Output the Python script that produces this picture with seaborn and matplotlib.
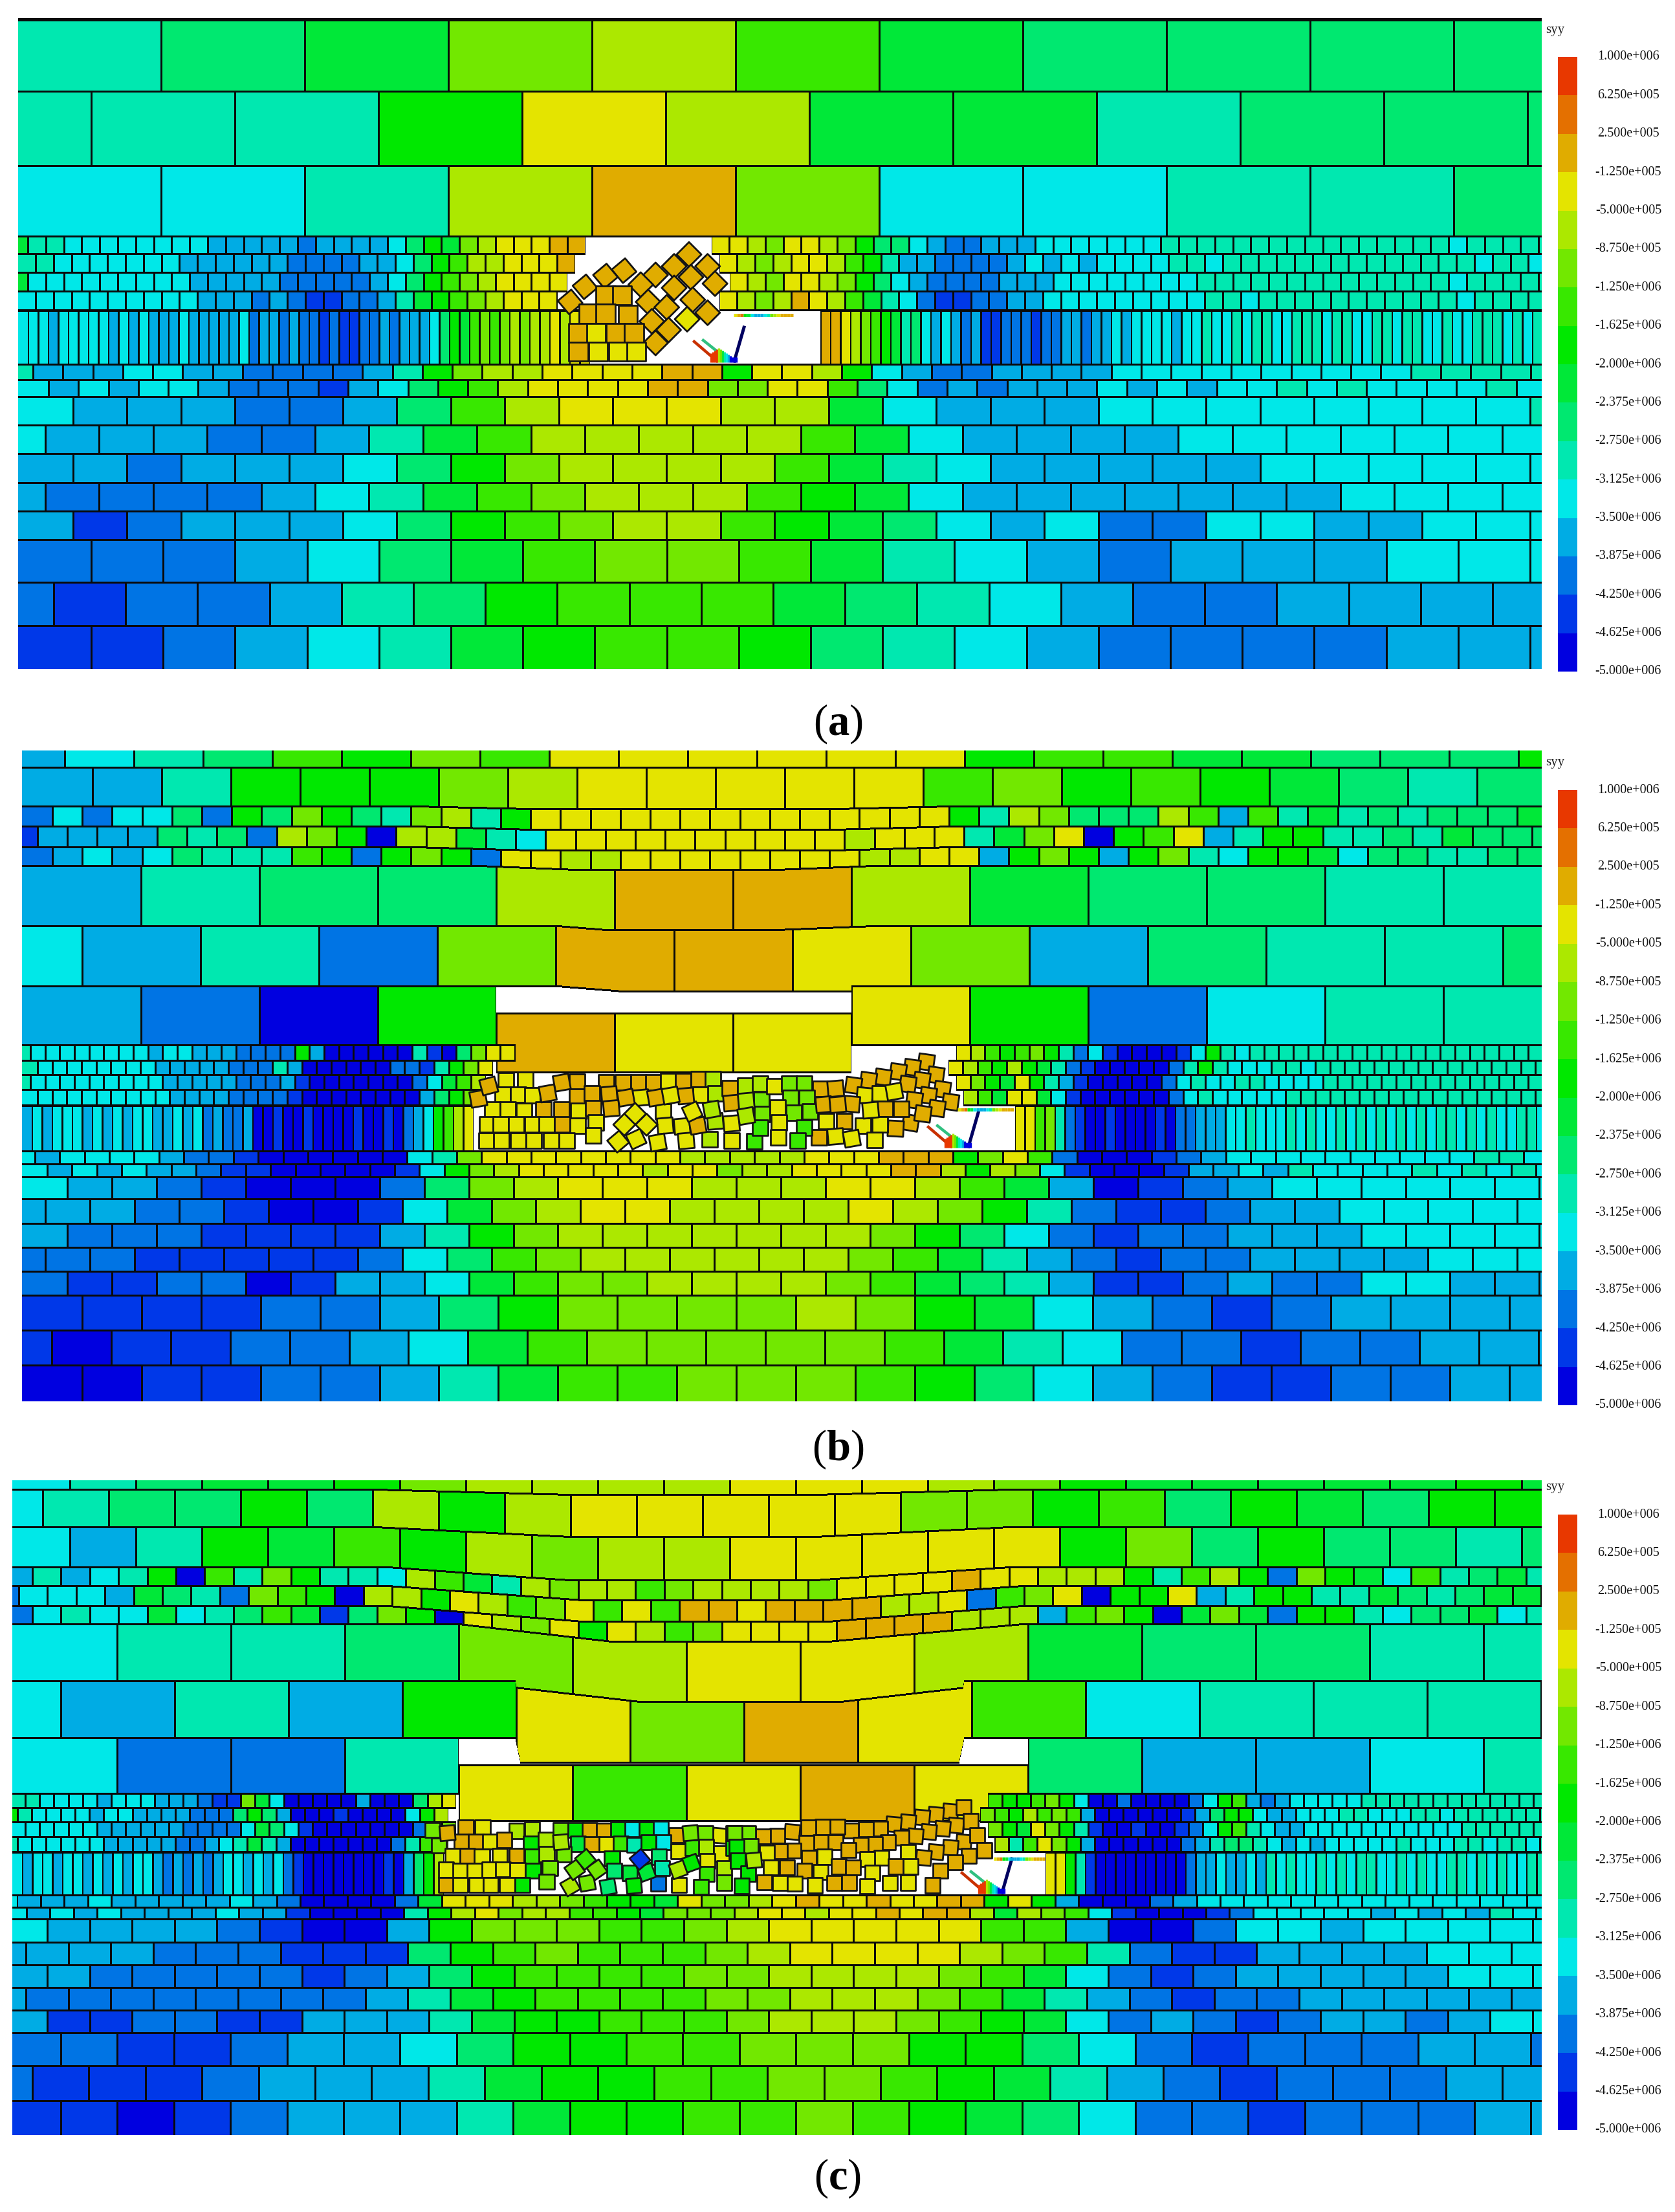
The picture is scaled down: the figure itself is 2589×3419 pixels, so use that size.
import numpy as np
import pandas as pd
import matplotlib
matplotlib.use('Agg')
import matplotlib.pyplot as plt
from matplotlib.colors import ListedColormap
import seaborn as sns

W, H = 2589, 3419

# stress bands, bottom of the colour bar to the top
CODES = 'abcdefghijklmnop'
BAND_COLORS = ['#0000e0', '#0038e8', '#0074e4', '#00ace4', '#00e8e8', '#00e8b0', '#00e870', '#00e838',
               '#00e800', '#38e800', '#72e800', '#ace800', '#e4e400', '#e0ac00', '#e47000', '#e83800']
BAND_LABELS = ['1.000e+006', '6.250e+005', '2.500e+005', '-1.250e+005', '-5.000e+005', '-8.750e+005',
               '-1.250e+006', '-1.625e+006', '-2.000e+006', '-2.375e+006', '-2.750e+006', '-3.125e+006',
               '-3.500e+006', '-3.875e+006', '-4.250e+006', '-4.625e+006', '-5.000e+006']

# stress band of every block, row by row ('.' is an open void)
a_levels = [
    'fghkljhgggg',
    'fffimlhhfggg',
    'eeflnkeeffg',
    'hffeeeeeeeedddddcddddegihklmmmnn ....... mmlkmml kiggedccddd eeeeeee ffffffffffffffff effff',
    'ffeeeeeeeddddddccccddegijllmmmn ........ mlklmml jifddccccdededeeeeffe ffffffffffffff effef',
    'heeeeeeeeedddddcccccdegijklmmmm ......... mlkmml kigedccccddd eeeeeeee ffffffffffffff effff',
    'eeeeeeeeeedddcdcbbccdfhijklmmm ......... mlklnml jhfecbbccdd eeeeeeeee ff e fffffffffff effff',
    'eeedeeeeede dedddeddddde cddcdcc bcbb ccdcdd de gih jkjk lkl lmlm m ....................... '
    'nnmlkjih fg ede dcd bb cccbcc ddcdd ed eeeedee feefeffeefffeffeeffeffeefeefffefeffeffe',
    'fdddeeddccccdfikllmmmmnnimml iedccdddd eeeeeeeeee fffff',
    'ededeedccc bdegijlmmmmnnkkmmj gecdcdddededeefefeeeefefe',
    'edddccdgjlmmmllheddd eeeeeeeef',
    'edddccdfhjlllll jheddddeeeeeee',
    'ddcdddegikllllj hfedddddeeeeee',
    'dccccdefhjkllljihedddddddeeee',
    'dbcdddegijkllji hgedecceeddee',
    'cccdeghjkkjhfedcdddeee',
    'cbccdfgijjjhgfedccdddd',
    'bbcdefhijjigfedccccddd',
]
b_levels = [
    'defgjikjmmmmmmijjhhgggi',
    'ddfiiikl mmmmm jkijihgfgg',
    'ceceegcigkigfklfi mmmmmmmmmm m mmm ifl kggglj djfhfgfgggh',
    'bddddgfgclkiallhfe mmmmmmmmmm lmmm fhkmaijm dfiiffgfhggg',
    'cdedegfffjicikicmmllmmmmmmmm llmmdikidikfeiihegg ffgg',
    'dfgglnnlhggff',
    'edfcknnmkdgffg',
    'dcainmmmiceff',
    'feeeeeeeedeedddccccidaaaaaafbagkmm .............................. mljijkifcebaaaabeifeffffffff fffffffffffff',
    'feeeeeeeedddddcccfdaaaaaaccbfikm ............................... mljilihfcbaaaaacfifeeeffef fffffffffffffff',
    'feeeeeeeeedddddcccdbaaaaaaacehjl ................................ mkihmifdbaaaaacefeeffeeeeffffffffffffff',
    'eeeeeeeeeeddddccccbaaaaaaaadgik ................................. ljhmmhebaaaaaacefeeeeeffffffffffffffffff',
    'dedeeedededee ddede cdccd aabaabaaaabaaba cd e i j lm ...................................................... '
    'mm jk f cb aabaaaaba ccd dde efeeefefeefefefefefeffefefeeffefe',
    'edeeeedccbaaaaaaefk mmmmmmmm lllll mm mnnnikmjcaaabcd eeeeeeeeee ffe',
    'edededdcbbaaaaabeiklmmmmmlmmkllmm mmnnlilkebaaabddedfeeeefefefe',
    'eddcbaaacgklmmmlllmmljhdabcdeeeeeee',
    'dddccbaabehklmmllllmlkifcbbcddeeeee',
    'dcccbbbbdfiklllllllkigecbccdddeeeee',
    'cccbbbbbcegjkllllllkjhfdcbccddddee',
    'cbbccabddehjkkllllkjhgfdbbcdcceedd',
    'bbbbccdgikkkklkihedcbcdddd',
    'babbccdehjkkkkkjhfeccbccdd',
    'aabbccdfhjjkkkjigedcbbccdd',
]
c_levels = [
    'efghhikllllmmmlkihhhhhih',
    'efggiglilmmm mmkkijgihgi',
    'edfihjilkllmmmmmikgigg fg',
    'dfdefiajfkiffeljhflklljkl lllk mm m mnmmlllifjlickihejfghfegfh',
    'ceeedhgfckjiallimljkmjmjnnmn nnnllmcjkmaiimdfiiffhgfgh',
    'cefeehefgjhbgkiamlkmimljkmmmm nnnn llldjkiahkhciifegghe f h h',
    'effgklmmlhggff',
    'edfdimknmjefffg',
    'eccfmjmnmgddef',
    'ffeeeedeeedddcbbkheaaaaadaaaglm ..................................... jiijkieaacaaaaceijdcdeeeeeff fffffffffff',
    'ifeeeedeeddddcccgigdaaabaaaaeil ..................................... kjiljkjdaaaaaabdgiiedd eeeffeeeffefffffff',
    'eeeeeeddddddccccehgebaaaaaaacfk ..................................... kihmkifbaabaabceijfedde eeeeeeeeeefffffff',
    'feeeeeedddddccdefhfdaaaaaaacfjk ...................................... lfjmkidaaaaaacdfggfededeeeeefeeeffeffef fff',
    'edeedeedededee dcdcdcd eedede cb aaaaaaaaba d g i l ............................................................ '
    'mm i f baaaaaaaaa c ddedded fefeefefeffeefefeeffefefeeff',
    'eddd edddddedcaaaachmmmllkjiihmkklmnm mnmmnnimidaaacd eeeeeeeeeeeeee e',
    'edededdddeddbaaaafilmkllj jihkkklmmlm mnmnnlhlkjebaaabce eeeedededfeeeee',
    'eddddcbaadikkkjjklmm mmmjjdaaceedeeeee',
    'ddddcccbbbgijkjjjklm mmmlkjfcbbdddd eeee',
    'ddcccccbcdgijjjjkkllllkjhecbcdddddeee',
    'dccccccccdfhijjjjkklllkjhfdcbccdddddd',
    'dbbccbbdddfhiijjjklllkjihecdcbcddcdee',
    'ccbbcddegiijjkkkiigecbcccddc',
    'cbbbcdddfhiijjkkjihfdcbcccdd',
    'bbabcdddfhiijjkjihgeccbcccdd',
]

# row boundaries (figure pixels), first joint and block width of each row
a_rows_y = [28, 141, 256, 365, 392, 421, 450, 479, 563, 587, 613, 657, 701, 746, 790, 834, 900, 967, 1034]
a_first = [249, 141, 249, 43, 55, 43, 55, 43.5, 51, 75, 113, 70, 113, 70, 113, 141, 83, 141]
a_width = [222, 222, 222, 27.8, 27.8, 27.8, 27.8, 15.5, 46.3, 46.3, 83.4, 83.4, 83.4, 83.4, 83.4, 111.2, 111.2, 111.2]
b_rows_y = [1160, 1186, 1246, 1277, 1309, 1338, 1431, 1524, 1615, 1639, 1661, 1684, 1708, 1779, 1799, 1819, 1853,
            1891, 1928, 1965, 2002, 2056, 2110, 2166]
b_first = [100, 143, 81, 58, 81, 218, 127, 218, 47, 58, 47, 58, 49.5, 54, 73, 104, 70, 104, 70, 104, 127, 80, 127]
b_width = [107, 107, 46.2, 46.2, 46.2, 183, 183, 183, 22.7, 22.7, 22.7, 22.7, 15.5, 38.35, 38.35, 68.95, 68.95, 68.95,
           68.95, 68.95, 91.9, 91.9, 91.9]
c_rows_y = [2288, 2302, 2360, 2422, 2451, 2482, 2510, 2598, 2686, 2772, 2794, 2816, 2839, 2862, 2929, 2948, 2966, 3002,
            3037, 3072, 3107, 3142, 3193, 3247, 3300]
c_first = [108, 66, 108, 50, 29, 50, 181, 94, 181, 39, 27, 39, 27, 34.5, 26.5, 41, 73, 40, 73, 40, 73, 94, 50, 94]
c_width = [102, 102, 102, 44.4, 44.4, 44.4, 176, 176, 176, 22.2, 22.2, 22.2, 22.2, 15.5, 36.46, 36.46, 65.6, 65.6,
           65.6, 65.6, 65.6, 87.4, 87.4, 87.4]

# how far the strata over the goaf have sagged: pixels, from x, to x, ramp
b_sag = [(0, 0, 1, 1), (4, 640, 1470, 180), (5, 640, 1470, 180), (5, 640, 1470, 180), (6, 640, 1470, 180),
         (6, 740, 1350, 150), (8, 862, 1413, 100), (42, 767, 1316, 0)]
c_sag = [(8, 580, 1560, 300), (15, 580, 1560, 300), (20, 580, 1560, 300), (22, 600, 1580, 300), (24, 600, 1580, 300),
         (27, 600, 1580, 300), (32, 709, 1579, 280), (38, 796, 1490, 8), (42, 709, 1589, 0)]

cave_a_diamonds = [(810, 100, 'n', 45), (770, 155, 'n', 45), (720, 195, 'n', 45), (860, 155, 'n', 45), (680, 240, 'n', 45),
                   (815, 205, 'n', 45), (770, 255, 'n', 45), (880, 235, 'n', 45), (635, 175, 'n', 40), (585, 200, 'n', 40),
                   (530, 250, 'n', 40), (490, 320, 'n', 40), (700, 320, 'n', 45), (750, 345, 'n', 45), (820, 310, 'n', 45),
                   (710, 410, 'n', 45), (860, 370, 'n', 45), (755, 450, 'n', 45), (720, 510, 'n', 45), (805, 400, 'm', 45)]
cave_a_squares = [(585, 290, 'n', 0), (630, 290, 'n', 0), (540, 375, 'n', 0), (585, 375, 'n', 0), (645, 380, 'n', 0),
                  (512, 465, 'n', 0), (560, 465, 'm', 0), (612, 465, 'n', 0), (662, 465, 'n', 0), (512, 550, 'n', 0),
                  (565, 550, 'm', 0), (620, 550, 'm', 0), (668, 550, 'm', 0)]
cave_b_left = [(185, 90, 'm', 0), (275, 88, 'm', 0), (445, 100, 'n', 10), (517, 95, 'n', 0), (650, 100, 'n', 0), (730, 100, 'n', 0),
               (800, 100, 'n', 0), (870, 100, 'n', 0), (938, 92, 'm', 0), (1008, 92, 'n', 0), (1080, 85, 'n', 0), (1147, 85, 'l', 0),
               (105, 115, 'n', 15), (58, 175, 'n', 10), (172, 155, 'm', 0), (243, 155, 'm', 0), (310, 160, 'm', 0), (380, 150, 'n', 10),
               (517, 165, 'n', 0), (585, 150, 'n', 0), (665, 155, 'n', 5), (742, 170, 'n', 10), (812, 170, 'm', 5), (882, 170, 'n', 10),
               (950, 160, 'm', 10), (1020, 162, 'n', 5), (1088, 155, 'm', 0), (1157, 150, 'l', 0), (1225, 125, 'n', 0), (1295, 115, 'l', 0),
               (1365, 105, 'l', 0), (122, 225, 'm', 0), (195, 225, 'm', 0), (270, 230, 'm', 0), (360, 225, 'n', 0), (445, 225, 'n', 0),
               (522, 230, 'm', 0), (592, 220, 'n', 0), (675, 220, 'n', 5), (785, 245, 'm', 45), (915, 235, 'm', 0), (1050, 235, 'm', 25),
               (1140, 225, 'l', 10), (1232, 195, 'n', 5), (1300, 185, 'l', 5), (1370, 180, 'k', 0), (98, 295, 'm', 0), (162, 295, 'm', 0),
               (235, 295, 'm', 0), (308, 295, 'm', 0), (375, 295, 'm', 0), (447, 295, 'n', 0), (520, 300, 'm', 0), (603, 285, 'm', 0),
               (735, 295, 'm', 45), (838, 295, 'm', 45), (925, 300, 'm', 5), (1003, 303, 'm', 5), (1075, 300, 'n', 10), (1157, 280, 'l', 5),
               (1232, 290, 'm', 5), (1300, 255, 'l', 10), (1375, 245, 'k', 0), (95, 368, 'm', 0), (165, 368, 'm', 0), (243, 368, 'm', 0),
               (315, 368, 'm', 0), (397, 368, 'm', 0), (467, 368, 'm', 0), (590, 345, 'm', 0), (705, 372, 'm', 40), (790, 362, 'm', 25),
               (890, 378, 'm', 10), (1022, 370, 'm', 5), (1130, 362, 'l', 0), (1232, 368, 'm', 0), (1338, 372, 'j', 0), (1365, 310, 'j', 0)]
cave_b_right = [(755, 95, 'n', -8), (690, 120, 'n', -8), (625, 140, 'n', -8), (555, 165, 'n', -8), (487, 180, 'n', -8), (418, 203, 'n', -8),
                (335, 218, 'n', 5), (265, 218, 'n', 0), (800, 155, 'n', -8), (735, 180, 'n', -8), (670, 198, 'n', -8), (607, 232, 'm', 10),
                (540, 240, 'm', 0), (470, 250, 'm', -5), (830, 222, 'n', -8), (765, 250, 'n', -8), (700, 272, 'n', -8), (280, 292, 'n', 5),
                (345, 292, 'n', 5), (410, 290, 'n', -5), (497, 318, 'm', 5), (565, 312, 'n', 0), (640, 312, 'n', 0), (868, 280, 'n', -8),
                (805, 310, 'n', -8), (740, 335, 'n', -8), (290, 368, 'm', 0), (375, 368, 'n', 0), (462, 390, 'm', 0), (540, 385, 'm', 0),
                (680, 375, 'n', -10), (612, 402, 'n', -3), (258, 443, 'n', 0), (335, 440, 'm', 5), (410, 450, 'm', 10), (515, 455, 'm', 0),
                (50, 207, 'm', 0), (120, 195, 'k', 0), (190, 195, 'k', 0), (125, 260, 'k', 0), (200, 260, 'k', 0), (65, 305, 'm', 0),
                (140, 330, 'k', 0), (215, 325, 'k', 0), (72, 375, 'm', 0), (190, 398, 'j', 0), (68, 445, 'm', 0), (160, 460, 'j', 0)]
cave_c_left = [(95, 100, 'n', 5), (180, 75, 'n', 0), (258, 75, 'm', 0), (415, 90, 'l', 0), (488, 82, 'l', 0), (25, 85, 'k', 0), (620, 85, 'k', 0),
               (690, 85, 'i', 0), (755, 85, 'n', 0), (820, 90, 'n', 0), (888, 82, 'i', 0), (952, 82, 'e', 0), (1018, 82, 'i', 0), (1085, 80, 'e', 0),
               (1158, 110, 'n', 0), (1222, 100, 'k', 5), (1290, 100, 'k', 0), (1358, 110, 'm', -5), (1420, 100, 'j', 0), (55, 158, 'k', 0),
               (160, 140, 'n', 0), (228, 140, 'n', 0), (293, 140, 'm', 0), (358, 132, 'n', 0), (483, 148, 'i', 0), (550, 132, 'l', 0),
               (622, 142, 'l', 5), (700, 150, 'h', 0), (765, 152, 'n', 0), (832, 152, 'm', 0), (898, 148, 'j', 0), (962, 155, 'f', 0),
               (1028, 142, 'i', 0), (1097, 142, 'e', 0), (1165, 185, 'm', 0), (1232, 168, 'j', 0), (1295, 165, 'l', 0), (1365, 195, 'm', 0),
               (1420, 170, 'i', 0), (120, 205, 'm', 0), (187, 205, 'n', 0), (255, 210, 'm', 0), (337, 205, 'm', 0), (415, 205, 'n', 0),
               (488, 210, 'j', 0), (555, 198, 'l', 0), (635, 198, 'k', 0), (735, 222, 'j', 40), (858, 218, 'i', 0), (988, 222, 'b', 40),
               (1075, 210, 'g', 0), (1225, 240, 'i', 20), (1300, 230, 'm', 0), (1378, 262, 'l', 0), (88, 270, 'm', 0), (155, 275, 'm', 0),
               (222, 275, 'm', 0), (290, 270, 'm', 0), (352, 268, 'm', 0), (420, 272, 'm', 0), (492, 275, 'i', 0), (570, 262, 'k', 0),
               (685, 270, 'k', 35), (788, 270, 'k', 35), (868, 275, 'g', 0), (940, 285, 'h', 0), (1018, 282, 'h', 20), (1090, 262, 'f', 0),
               (1165, 270, 'l', 20), (1298, 290, 'j', 0), (1378, 330, 'k', 0), (88, 340, 'n', 0), (155, 340, 'm', 0), (230, 340, 'm', 0),
               (295, 340, 'm', 0), (372, 340, 'm', 0), (442, 340, 'i', 0), (555, 325, 'k', 0), (662, 345, 'l', 30), (743, 332, 'k', 10),
               (840, 350, 'g', 10), (960, 345, 'i', 5), (1072, 335, 'c', 0), (1168, 340, 'm', 0), (1270, 350, 'j', 0)]
cave_c_right = [(1045, 70, 'n', 0), (985, 90, 'n', -5), (920, 105, 'n', -5), (858, 118, 'n', -5), (795, 140, 'n', -5), (730, 150, 'n', -5),
                (670, 170, 'n', 0), (605, 172, 'n', 0), (540, 178, 'n', 0), (478, 160, 'n', 0), (412, 162, 'n', 0), (348, 165, 'n', 0),
                (275, 185, 'n', -5), (208, 203, 'n', 0), (143, 205, 'n', 0), (78, 190, 'k', 0), (15, 190, 'k', 0), (1075, 135, 'n', 0),
                (1010, 155, 'n', -5), (950, 170, 'n', -5), (888, 185, 'n', -5), (828, 205, 'n', -5), (765, 212, 'n', 0), (705, 232, 'n', 0),
                (645, 242, 'n', 0), (583, 245, 'n', 0), (468, 232, 'n', 0), (402, 232, 'n', 0), (338, 235, 'n', 0), (280, 272, 'n', 0),
                (220, 275, 'n', 0), (160, 280, 'm', 0), (88, 250, 'k', 0), (25, 255, 'i', 0), (1105, 200, 'n', 0), (1045, 232, 'n', -5),
                (985, 258, 'n', -5), (920, 278, 'n', -5), (865, 305, 'n', -5), (795, 278, 'm', 0), (805, 345, 'm', 0), (675, 305, 'm', 0),
                (610, 310, 'm', 0), (528, 268, 'n', 0), (350, 305, 'n', 0), (420, 300, 'm', 0), (1137, 270, 'n', 0), (1068, 295, 'n', 0),
                (1005, 325, 'n', 0), (103, 315, 'l', 5), (30, 318, 'i', 0), (180, 350, 'm', 0), (250, 350, 'n', 0), (330, 365, 'n', 0),
                (402, 370, 'm', 0), (483, 345, 'n', 0), (548, 350, 'n', 0), (635, 375, 'm', 0), (740, 345, 'n', 0), (940, 365, 'n', 0),
                (150, 418, 'n', 0), (218, 422, 'm', 0), (285, 425, 'm', 0), (375, 432, 'm', 0), (462, 422, 'n', 0), (530, 420, 'n', 0),
                (612, 437, 'm', 0), (712, 422, 'm', 0), (795, 420, 'm', 0), (905, 432, 'n', 0), (78, 378, 'i', 0), (48, 435, 'i', 0)]

# the bent support at the face: foot position and canopy of each panel
support_foot = [(1105, 558), (1467, 1772), (1519, 2925)]
canopy_span = [(1134, 1226, 487), (1480, 1567, 1715), (1536, 1615, 2873)]
canopy_levels = 'mnoihedddefklmnnnn'
foot_levels = 'pppplkhfedaaaa'


def cave_frame(blocks, ox, oy, sx, sy):
    return pd.DataFrame({'x': [ox + b[0] / sx for b in blocks], 'y': [oy + b[1] / sy for b in blocks],
                         'band': [b[2] for b in blocks], 'tilt': [b[3] for b in blocks]})


def build_panel(levels, rows_y, first, width, x_left, x_right, sag=(), gap_row=-1, seam_row=-1, top_line=False):
    y_top = rows_y[0]
    mat = np.full((rows_y[-1] - y_top, x_right - x_left), np.nan)
    xs = x_left + np.arange(mat.shape[1])
    prev = None
    for r, text in enumerate(levels):
        codes = [CODES.find(ch) for ch in text.replace(' ', '')]
        idx = np.where(xs < first[r], 0, 1 + np.floor((xs - first[r]) / width[r]).astype(int))
        idx = np.minimum(idx, len(codes) - 1)
        d = (xs - first[r]) % width[r]
        joint = ((d < 1.5) | (d > width[r] - 1.5)) & (xs > first[r] - 2)

        off = np.zeros(len(xs), dtype=int)
        if r < len(sag):
            s, xa, xb, ramp = sag[r]
            if ramp > 0:
                prof = np.clip(np.minimum((xs - xa) / ramp, (xb - xs) / ramp), 0, 1)
            else:
                prof = ((xs >= xa) & (xs < xb)).astype(float)
            off = np.round(s * prof).astype(int)
        top = off if (prev is None or r == gap_row) else np.minimum(prev, off)

        line = 3 if r == seam_row else 2
        ya, yb = rows_y[r] - y_top, rows_y[r + 1] - y_top
        for c in range(len(xs)):
            band = codes[idx[c]]
            if band < 0:
                continue
            a = 0 if r == 0 else ya + top[c]
            b = yb + off[c]
            mat[a:b, c] = 16 if joint[c] else band
            if r > 0:
                mat[max(a - 1, 0):a + line, c] = 16
            if r < len(levels) - 1:
                mat[b - 1:b + line, c] = 16
        prev = off
    if top_line:
        mat[:5, :] = 16
    return mat


def draw_cave(ax, frame, x_left, y_top, size, lw=2.0):
    palette = dict(zip(CODES, BAND_COLORS))
    frame = frame.assign(x=frame['x'] - x_left, y=frame['y'] - y_top)
    for tilt, group in frame.groupby('tilt'):
        sns.scatterplot(data=group, x='x', y='y', hue='band', palette=palette, marker=(4, 0, 45 + tilt), s=size,
                        edgecolor='#141414', linewidth=lw, legend=False, ax=ax, zorder=3)


def draw_support(ax, n, x_left, y_top):
    fx, fy = support_foot[n]
    fx, fy = fx - x_left, fy - y_top
    ax.plot([fx - 32, fx + 3], [fy - 30, fy], color='#c83000', lw=3.2, zorder=4)
    ax.plot([fx - 18, fx + 16], [fy - 32, fy - 5], color='#30c080', lw=3.2, zorder=4)
    ax.plot([fx + 45, fx + 30], [fy - 52, fy], color='#000060', lw=3.6, zorder=4)
    for i, ch in enumerate(foot_levels):
        h = max(20 - abs(i - 4) * 2, 6)
        ax.vlines(fx - 6 + i * 3, fy - h, fy + 2, color=BAND_COLORS[CODES.index(ch)], lw=2.4, zorder=4)
    x0, x1, yc = canopy_span[n]
    step = (x1 - x0) / len(canopy_levels)
    for i, ch in enumerate(canopy_levels):
        xa = x0 - x_left + i * step
        ax.hlines(yc - y_top, xa, xa + step, color=BAND_COLORS[CODES.index(ch)], lw=3.6, zorder=4)


plt.rcParams['font.family'] = ['Liberation Serif', 'DejaVu Serif']
plt.rcParams['mathtext.fontset'] = 'custom'
plt.rcParams['mathtext.bf'] = 'Liberation Serif:bold'
plt.rcParams['mathtext.rm'] = 'Liberation Serif'

fig = plt.figure(figsize=(W / 100, H / 100), dpi=100, facecolor='white')
cmap = ListedColormap(BAND_COLORS + ['#0a0a0a'])

panels = [
    dict(levels=a_levels, rows_y=a_rows_y, first=a_first, width=a_width, x_left=28, seam_row=7, top_line=True),
    dict(levels=b_levels, rows_y=b_rows_y, first=b_first, width=b_width, x_left=34, seam_row=12, sag=b_sag, gap_row=7),
    dict(levels=c_levels, rows_y=c_rows_y, first=c_first, width=c_width, x_left=19, seam_row=13, sag=c_sag, gap_row=8),
]
caves = [
    [(cave_frame(cave_a_diamonds, 600, 360, 1.742, 3), 760), (cave_frame(cave_a_squares, 600, 360, 1.742, 3), 900)],
    [(cave_frame(cave_b_left, 720, 1640, 3, 3), 600), (cave_frame(cave_b_right, 1180, 1610, 3, 3), 600)],
    [(cave_frame(cave_c_left, 660, 2800, 3, 3), 550), (cave_frame(cave_c_right, 1130, 2770, 2.904, 3), 550)],
]
bar_y = [(88, 1038), (1221, 2172), (2341, 3292)]
syy_y = [46, 1179, 2299]
caption_y = [1119, 2240, 3367]
caption = ['a', 'b', 'c']

for n, p in enumerate(panels):
    x_left = p['x_left']
    x_right = 2383
    y_top = p['rows_y'][0]
    y_bot = p['rows_y'][-1]
    mat = build_panel(p['levels'], p['rows_y'], p['first'], p['width'], x_left, x_right, p.get('sag', ()),
                      p.get('gap_row', -1), p['seam_row'], p.get('top_line', False))
    ax = fig.add_axes([x_left / W, 1 - y_bot / H, (x_right - x_left) / W, (y_bot - y_top) / H])
    sns.heatmap(mat, cmap=cmap, vmin=-0.5, vmax=16.5, cbar=False, xticklabels=False, yticklabels=False, ax=ax)
    for frame, size in caves[n]:
        draw_cave(ax, frame, x_left, y_top, size)
    draw_support(ax, n, x_left, y_top)
    ax.set_xlim(0, x_right - x_left)
    ax.set_ylim(y_bot - y_top, 0)
    ax.set(xlabel='', ylabel='', xticks=[], yticks=[])

    # colour bar, drawn from the same bands
    y0, y1 = bar_y[n]
    bar = fig.add_axes([2408 / W, 1 - y1 / H, 30 / W, (y1 - y0) / H])
    sns.heatmap(np.arange(15, -1, -1).reshape(-1, 1), cmap=ListedColormap(BAND_COLORS), vmin=-0.5, vmax=15.5,
                cbar=False, xticklabels=False, yticklabels=False, ax=bar)
    bar.set(xlabel='', ylabel='')
    for i, label in enumerate(BAND_LABELS):
        bar.text(3.63, i, label, fontsize=14.5, ha='center', va='center', color='#111111')
    fig.text(2389 / W, 1 - syy_y[n] / H, 'syy', fontsize=15, ha='left', va='center', color='#222222')

    fig.text(1295 / W, 1 - caption_y[n] / H, r'($\mathbf{%s}$)' % caption[n], fontsize=48, ha='center', va='center',
             color='black')

fig.savefig('out.png', dpi=100, facecolor='white')
